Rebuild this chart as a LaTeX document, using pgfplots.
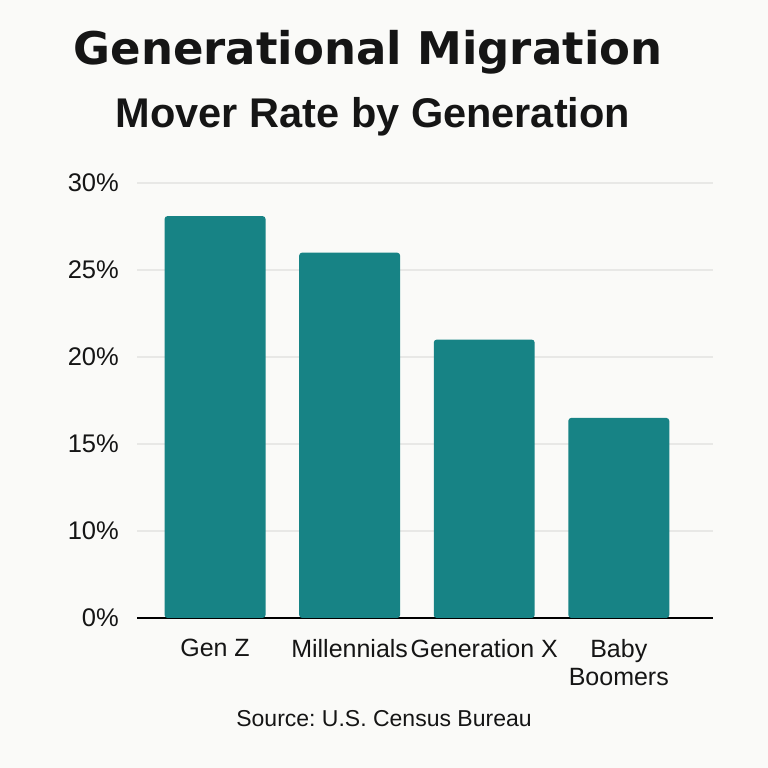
\documentclass[border=0pt]{standalone}
\usepackage{pgfplots}
\pgfplotsset{compat=1.18}
\usepackage{fontspec}
\setmainfont{Liberation Sans}
\newfontfamily\titlefont{DejaVu Sans}
\frenchspacing

\definecolor{bgcol}{HTML}{FAFAF8}
\definecolor{barcol}{HTML}{178385}
\definecolor{gridcol}{HTML}{E8E8E6}
\definecolor{txt}{HTML}{151515}

\begin{document}
\begin{tikzpicture}[x=1pt,y=1pt]
  % page background, 768 x 768
  \fill[bgcol] (0,0) rectangle (768,768);

  \node[anchor=base, text=txt] at (368,703)
    {\titlefont\bfseries\fontsize{45}{54}\selectfont Generational Migration};
  \node[anchor=base, text=txt] at (373,640)
    {\bfseries\fontsize{41.5}{50}\selectfont Mover Rate by Generation};

  \begin{axis}[
      at={(137pt,150pt)}, anchor=south west,
      scale only axis,
      width=576pt, height=435pt,
      xmin=-0.58, xmax=3.70,
      ymin=5, ymax=30,
      axis lines=left,
      axis line style={-},
      x axis line style={line width=2pt, black},
      y axis line style={draw=none},
      major tick length=0pt,
      ymajorgrids,
      grid style={draw=gridcol, line width=1.3pt},
      xtick={0,1,2,3},
      xticklabels={Gen Z, Millennials, Generation X, {Baby\\Boomers}},
      ytick={5,10,15,20,25,30},
      yticklabels={0\%,10\%,15\%,20\%,25\%,30\%},
      xticklabel style={align=center, anchor=north, inner sep=0pt, yshift=-21pt,
        text=txt, font=\fontsize{25}{28.5}\selectfont},
      yticklabel style={anchor=east, inner sep=0pt, xshift=-18pt,
        text=txt, font=\fontsize{25.5}{30}\selectfont},
      ybar, bar width=0.75,
    ]
    \addplot[fill=barcol, draw=none, rounded corners=3pt]
      coordinates {(0,28.1) (1,26.0) (2,21.0) (3,16.5)};
  \end{axis}

  \node[anchor=base, text=txt] at (384,41)
    {\fontsize{23}{28}\selectfont Source: U.S. Census Bureau};
\end{tikzpicture}
\end{document}
